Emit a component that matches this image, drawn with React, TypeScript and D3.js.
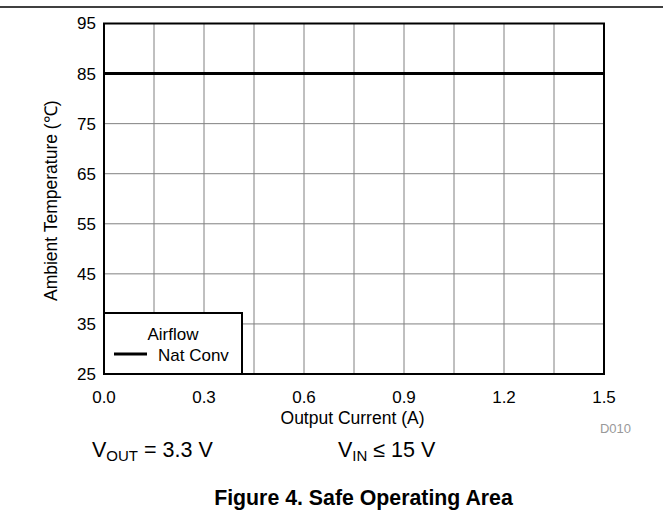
import React from "react";
import * as d3 from "d3";

const xTicks = [0.0, 0.3, 0.6, 0.9, 1.2, 1.5];
const yTicks = [25, 35, 45, 55, 65, 75, 85, 95];
const xGrid = [0, 0.15, 0.3, 0.45, 0.6, 0.75, 0.9, 1.05, 1.2, 1.35, 1.5];
const yGrid = [25, 35, 45, 55, 65, 75, 85, 95];
const natConvX = [0, 1.5];
const natConvY = [85, 85];

const W = 663;
const H = 513;
const font = "'Liberation Sans', Arial, Helvetica, sans-serif";

export default function App() {
  const x = d3.scaleLinear().domain([0, 1.5]).range([104, 604]);
  const y = d3.scaleLinear().domain([25, 95]).range([374, 23.5]);
  const line = d3
    .line<number>()
    .x((_, i) => x(natConvX[i]))
    .y((d) => y(d));
  return (
    <div style={{ position: "absolute", left: 0, top: 0 }}>
      <svg width={W} height={H} style={{ display: "block", background: "#fff" }}>
        <line x1={0} x2={W} y1={7} y2={7} stroke="#000" strokeWidth={1.5} />
        {xGrid.map((v) => (
          <line key={"xg" + v} x1={x(v)} x2={x(v)} y1={y(95)} y2={y(25)} stroke="#808080" strokeWidth={1} />
        ))}
        {yGrid.map((v) => (
          <line key={"yg" + v} x1={x(0)} x2={x(1.5)} y1={y(v)} y2={y(v)} stroke="#808080" strokeWidth={1} />
        ))}
        <path d={line(natConvY) || ""} stroke="#000" strokeWidth={3} fill="none" />
        <rect x={x(0)} y={y(95)} width={x(1.5) - x(0)} height={y(25) - y(95)} fill="none" stroke="#000" strokeWidth={2} />
        {yTicks.map((v) => (
          <text key={"yt" + v} x={96} y={y(v)} dy="0.35em" textAnchor="end" fontFamily={font} fontSize={17} fill="#000">
            {v}
          </text>
        ))}
        {xTicks.map((v) => (
          <text key={"xt" + v} x={x(v)} y={403} textAnchor="middle" fontFamily={font} fontSize={17} fill="#000">
            {v.toFixed(1)}
          </text>
        ))}
        <text x={352.5} y={424} textAnchor="middle" fontFamily={font} fontSize={17.5} fill="#000">
          Output Current (A)
        </text>
        <text
          transform={`translate(57,${(y(95) + y(25)) / 2 + 2}) rotate(-90)`}
          textAnchor="middle"
          fontFamily={font}
          fontSize={17.5}
          fill="#000"
        >
          Ambient Temperature (℃)
        </text>
        <rect x={x(0)} y={313} width={242 - x(0)} height={y(25) - 313} fill="#fff" stroke="#000" strokeWidth={2} />
        <text x={173} y={340} textAnchor="middle" fontFamily={font} fontSize={17} fill="#000">
          Airflow
        </text>
        <line x1={114} x2={147} y1={354} y2={354} stroke="#000" strokeWidth={3} />
        <text x={158} y={361} fontFamily={font} fontSize={17} fill="#000">
          Nat Conv
        </text>
        <text x={631} y={433} textAnchor="end" fontFamily={font} fontSize={13} fill="#999">
          D010
        </text>
        <text x={92} y={457} fontFamily={font} fontSize={21.5} fill="#000">
          V<tspan fontSize={15} dy={4}>OUT</tspan>
          <tspan dy={-4}> = 3.3 V</tspan>
        </text>
        <text x={338} y={457} fontFamily={font} fontSize={21.5} fill="#000">
          V<tspan fontSize={15} dy={4}>IN</tspan>
          <tspan dy={-4}> ≤ 15 V</tspan>
        </text>
        <text x={363.5} y={505} textAnchor="middle" fontFamily={font} fontSize={21.3} fontWeight="bold" fill="#000">
          Figure 4. Safe Operating Area
        </text>
      </svg>
    </div>
  );
}
